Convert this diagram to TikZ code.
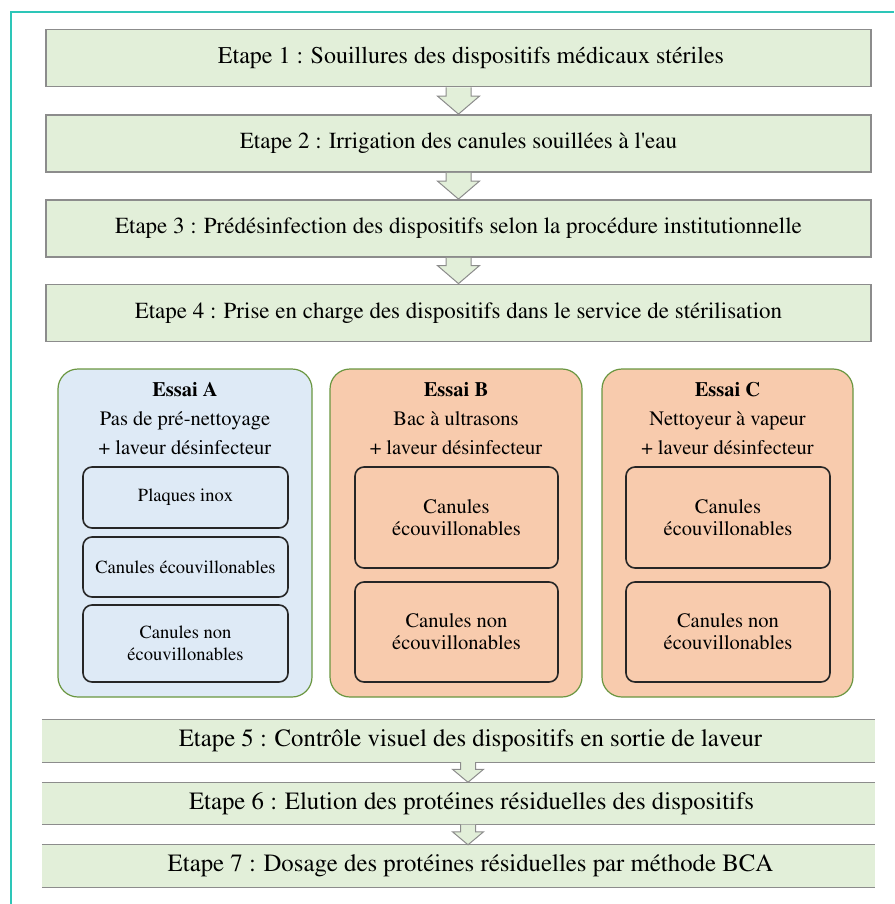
\documentclass[tikz,border=0pt]{standalone}
\usepackage[T1]{fontenc}
\usepackage{mathptmx}
\usetikzlibrary{calc}

\definecolor{vertpale}{RGB}{226,239,217}
\definecolor{grisbord}{RGB}{140,140,140}
\definecolor{bleupale}{RGB}{222,234,246}
\definecolor{saumon}{RGB}{248,203,173}
\definecolor{vertbord}{RGB}{106,150,64}
\definecolor{turquoise}{RGB}{45,198,184}

% grosse fleche entre deux etapes: depart, arrivee, decalage, demi-tige, demi-tete, tete
\newcommand\flechebloc[6]{%
  \filldraw[fleche] let \p1=($(#1.south)+(#3,0)$), \p2=(#2.north) in
    (\x1-#4pt,\y1) -- (\x1-#4pt,\y2+#6pt) -- (\x1-#5pt,\y2+#6pt) -- (\x1,\y2)
    -- (\x1+#5pt,\y2+#6pt) -- (\x1+#4pt,\y2+#6pt) -- (\x1+#4pt,\y1);}

\begin{document}
\begin{tikzpicture}[x=1pt, y=-1pt,
      etape/.style = {rectangle, fill=vertpale, draw=grisbord, line width=1.8pt,
                      minimum width=825pt, minimum height=57pt, inner sep=0pt,
                      font=\fontsize{23}{26}\selectfont},
     etapeb/.style = {rectangle, fill=vertpale, minimum width=833pt,
                      minimum height=42pt, inner sep=0pt,
                      font=\fontsize{24.8}{27}\selectfont},
      essai/.style = {rectangle, rounded corners=20pt, draw=vertbord, line width=1.2pt,
                      minimum width=#1, minimum height=328pt, inner sep=0pt},
      titre/.style = {align=center, inner sep=0pt, font=\fontsize{20.5}{29}\selectfont},
     canule/.style = {rectangle, rounded corners=9pt, draw=black!85, line width=1.6pt,
                      align=center, inner sep=0pt, font=\fontsize{#1}{22}\selectfont},
     fleche/.style = {fill=vertpale, draw=grisbord, line width=1pt, line join=miter},
      trait/.style = {draw=grisbord, line width=1.3pt},
      cadre/.style = {draw=turquoise, line width=1.3pt}
                   ]
\useasboundingbox (0,0) rectangle (894,904);
\draw[cadre] (11,904) -- (11,12) -- (894,12);

\node (e1) at (458.5,58) [etape, font=\fontsize{24}{26}\selectfont] {\hspace*{25pt}Etape 1 : Souillures des dispositifs médicaux stériles};
\node (e2) at (458.5,143.5) [etape] {Etape 2 : Irrigation des canules souillées à l\textquotesingle eau};
\node (e3) at (458.5,228.5) [etape] {Etape 3 : Prédésinfection des dispositifs selon la procédure institutionnelle};
\node (e4) at (458.5,313) [etape] {Etape 4 : Prise en charge des dispositifs dans le service de stérilisation};

\flechebloc{e1}{e2}{0}{12.5}{21}{18}
\flechebloc{e2}{e3}{0}{12.5}{21}{18}
\flechebloc{e3}{e4}{0}{12.5}{21}{18}

% les trois essais
\node (pA) at (185,533) [essai=254pt, fill=bleupale] {};
\node (pB) at (456,533) [essai=252pt, fill=saumon] {};
\node (pC) at (727.5,533) [essai=251pt, fill=saumon] {};

\node (tA) at (185,419) [titre] {\textbf{Essai A}\\Pas de pré-nettoyage\\+ laveur désinfecteur};
\node (tB) at (456,419) [titre] {\textbf{Essai B}\\Bac à ultrasons\\+ laveur désinfecteur};
\node (tC) at (727.5,419) [titre] {\textbf{Essai C}\\Nettoyeur à vapeur\\+ laveur désinfecteur};

\node (a1) at (185.5,497.5) [canule=18.5, minimum width=205pt, minimum height=61pt] {Plaques inox};
\node (a2) at (185.5,567) [canule=18.5, minimum width=205pt, minimum height=60pt] {Canules écouvillonables};
\node (a3) at (185.5,643.5) [canule=18.5, minimum width=205pt, minimum height=77pt] {Canules non\\écouvillonables};

\node (b1) at (456.5,517.5) [canule=20.5, minimum width=203pt, minimum height=101pt] {Canules\\écouvillonables};
\node (b2) at (456.5,632) [canule=20.5, minimum width=203pt, minimum height=100pt] {Canules non\\écouvillonables};

\node (c1) at (728,517.5) [canule=20.5, minimum width=204pt, minimum height=101pt] {Canules\\écouvillonables};
\node (c2) at (728,632) [canule=20.5, minimum width=204pt, minimum height=100pt] {Canules non\\écouvillonables};

% etapes finales
\node (e5) at (458.5,741) [etapeb] {\hspace*{24pt}Etape 5 : Contrôle visuel des dispositifs en sortie de laveur};
\node (e6) at (458.5,803.5) [etapeb] {\hspace*{26pt}Etape 6 : Elution des protéines résiduelles des dispositifs};
\node (e7) at (458.5,866) [etapeb] {\hspace*{24pt}Etape 7 : Dosage des protéines résiduelles par méthode BCA};

\path[trait] (e5.north west) -- (e5.north east) (e5.south west) -- (e5.south east)
             (e6.north west) -- (e6.north east) (e6.south west) -- (e6.south east)
             (e7.north west) -- (e7.north east) (e7.south west) -- (e7.south east);

\flechebloc{e5}{e6}{9.5}{7.5}{15.5}{13}
\flechebloc{e6}{e7}{9.5}{7.5}{15.5}{13}
\end{tikzpicture}
\end{document}
